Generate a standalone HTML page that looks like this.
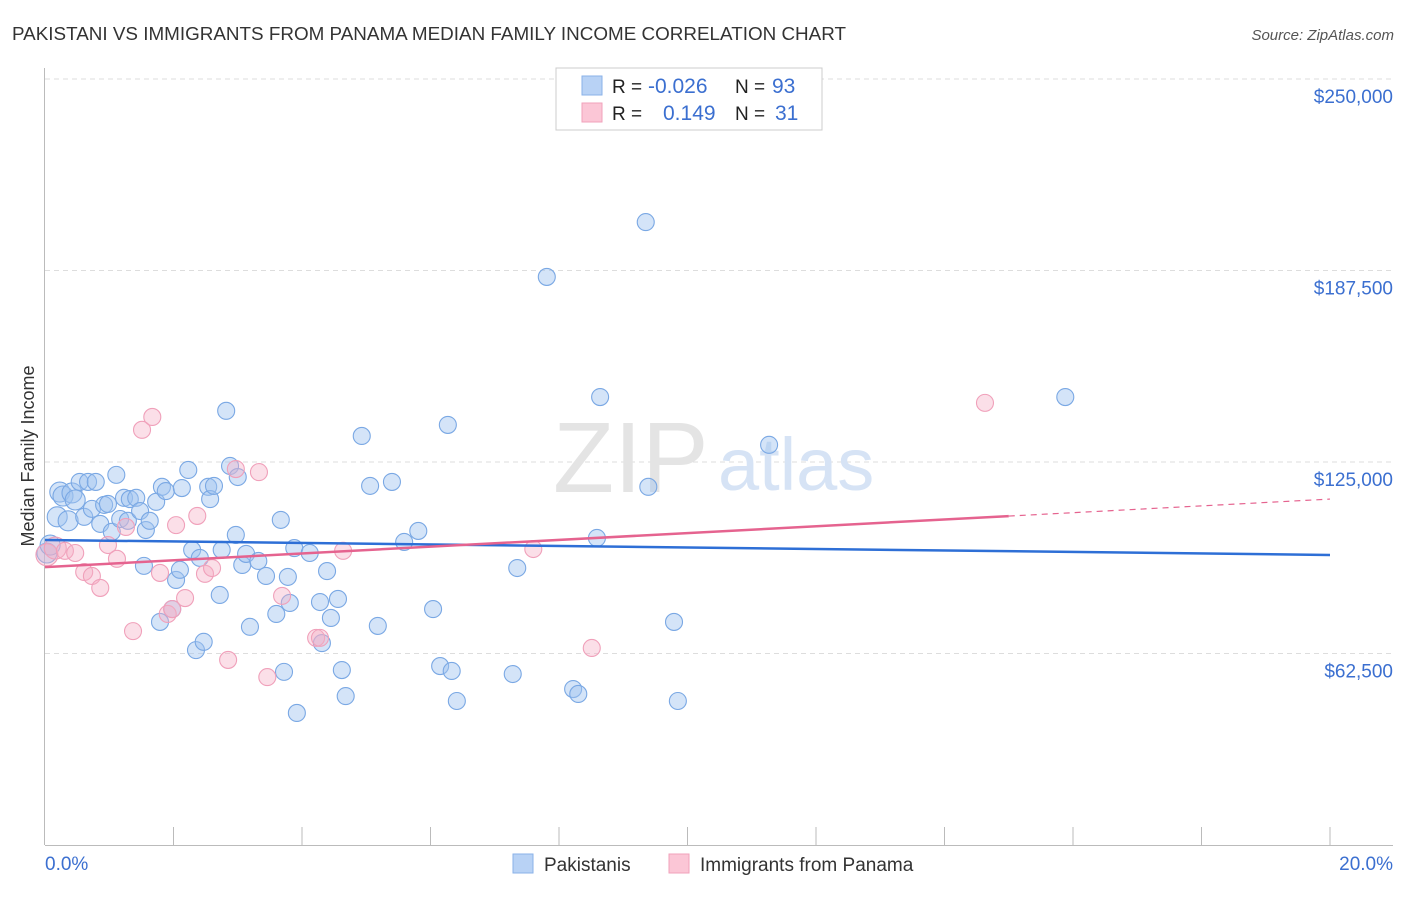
<!DOCTYPE html>
<html><head><meta charset="utf-8"><style>
body{margin:0;background:#fff;font-family:"Liberation Sans",sans-serif;}
svg text{font-family:"Liberation Sans",sans-serif;}
</style></head><body>
<svg id="chart" width="1406" height="892">
<text x="12" y="40" font-size="18" fill="#333" textLength="834" lengthAdjust="spacingAndGlyphs">PAKISTANI VS IMMIGRANTS FROM PANAMA MEDIAN FAMILY INCOME CORRELATION CHART</text>
<text x="1394" y="40" font-size="15" fill="#555" text-anchor="end" font-style="italic">Source: ZipAtlas.com</text>
<text x="34" y="456" font-size="18" fill="#333" text-anchor="middle" transform="rotate(-90 34 456)">Median Family Income</text>
<g id="grid"></g>
<text x="553" y="492" font-size="100" fill="#e4e4e4" font-family="Liberation Serif">ZIP</text>
<text x="718" y="490" font-size="74" fill="#d6e3f5">atlas</text>
<g id="pts"></g>
<g id="lines"></g>
<g>
<rect x="556" y="68" width="266" height="62" fill="#fff" stroke="#ccc"/>
<rect x="582" y="76" width="20" height="19" fill="#b8d2f5" stroke="#8ab2e8"/>
<rect x="582" y="103" width="20" height="19" fill="#fbc6d6" stroke="#f0a2bb"/>
<text x="612" y="93" font-size="19" fill="#222">R =</text>
<text x="648" y="93" font-size="21" fill="#3b6fd0">-0.026</text>
<text x="735" y="93" font-size="19" fill="#222">N =</text>
<text x="772" y="93" font-size="21" fill="#3b6fd0">93</text>
<text x="612" y="120" font-size="19" fill="#222">R =</text>
<text x="663" y="120" font-size="21" fill="#3b6fd0">0.149</text>
<text x="735" y="120" font-size="19" fill="#222">N =</text>
<text x="775" y="120" font-size="21" fill="#3b6fd0">31</text>
</g>
<g>
<rect x="513" y="854" width="20" height="19" fill="#b8d2f5" stroke="#8ab2e8"/>
<text x="544" y="871" font-size="19" fill="#333">Pakistanis</text>
<rect x="669" y="854" width="20" height="19" fill="#fbc6d6" stroke="#f0a2bb"/>
<text x="700" y="871" font-size="19" fill="#333">Immigrants from Panama</text>
</g>
</svg>
<script>
const yTicks=[62500,125000,187500,250000];
const yTickLabels=["$62,500","$125,000","$187,500","$250,000"];
const blueX=[0.03,0.08,0.19,0.23,0.28,0.36,0.42,0.47,0.54,0.61,0.67,0.73,0.79,0.86,0.92,0.98,1.04,1.11,1.17,1.23,1.29,1.32,1.42,1.48,1.57,1.63,1.54,1.73,1.82,1.88,1.79,1.98,2.04,2.10,2.13,2.23,2.29,2.35,2.41,2.47,2.54,2.57,2.63,2.72,2.75,2.82,2.88,2.97,3.00,3.07,3.13,3.19,3.32,3.44,3.60,3.67,3.72,3.78,3.81,3.88,3.92,4.12,4.28,4.31,4.39,4.45,4.56,4.62,4.68,4.93,5.06,5.18,5.40,5.59,5.81,6.04,6.15,6.27,6.33,6.41,7.28,7.35,7.81,8.22,8.30,8.59,8.64,9.35,9.39,9.79,9.85,11.27,15.88];
const blueY=[95300,97900,107100,115200,113900,105800,114900,112600,118500,107100,118500,109700,118500,104800,111000,111300,102200,120800,106400,113300,105800,112900,113300,109000,102800,105800,91100,112000,116900,115500,72800,77000,86500,89800,116500,122400,96300,63600,93700,66300,116900,112900,117200,81600,96300,141700,123700,101200,120100,91400,95000,71200,92700,87800,75400,106100,56500,87500,79000,96900,43100,95300,79300,65900,89400,74100,80300,57100,48600,133500,117200,71500,118500,98900,102500,77000,58400,137100,56800,47000,55800,90400,185400,50900,49300,100200,146200,203300,116900,72800,47000,130600,146200];
const pinkX=[0.03,0.16,0.31,0.47,0.61,0.73,0.86,0.98,1.12,1.26,1.37,1.51,1.67,1.79,1.91,1.98,2.04,2.18,2.37,2.49,2.60,2.85,2.97,3.33,3.46,3.69,4.22,4.28,4.64,7.60,8.51,14.63];
const pinkY=[94700,96900,96000,95300,89100,87800,83900,97900,93400,103800,69800,135500,139700,88800,75400,77000,104400,80600,107400,88500,90400,60400,122700,121700,54800,81300,67600,67600,96000,96600,64300,144300];
const blueTrend=[99550,94660];
const pinkTrend=[90700,112900];
const pinkSolidEnd=15.0;
const X=p=>45+p*64.25, Y=v=>845-v/62500*191.5;
const NS="http://www.w3.org/2000/svg";
function mk(t,a,parent){const e=document.createElementNS(NS,t);for(const k in a)e.setAttribute(k,a[k]);parent.appendChild(e);return e;}
const grid=document.getElementById('grid'),pts=document.getElementById('pts'),lines=document.getElementById('lines');
yTicks.forEach((v,i)=>{
  const l=mk('line',{x1:45,x2:1393,y1:Y(v),y2:Y(v),stroke:'#ddd','stroke-dasharray':'5,4'},grid);
  
  
  const t=mk('text',{x:1393,y:Y(v)+24,'font-size':19,fill:'#3b6fd0','text-anchor':'end'},grid);
  t.textContent=yTickLabels[i];
  
  
});
mk('line',{x1:44.5,x2:44.5,y1:68,y2:845,stroke:'#bbb'},grid);
mk('line',{x1:45,x2:1393,y1:845.5,y2:845.5,stroke:'#bbb'},grid);
for(let i=1;i<=10;i++){const tk=mk('line',{x1:X(i*2),x2:X(i*2),y1:827,y2:845,stroke:'#bbb'},grid);
  
  }
const xl=mk('text',{x:45,y:870,'font-size':19,fill:'#3b6fd0'},grid);xl.textContent='0.0%';


const xr=mk('text',{x:1393,y:870,'font-size':19,fill:'#3b6fd0','text-anchor':'end'},grid);xr.textContent='20.0%';


blueX.forEach((x,i)=>{const c=mk('circle',{cx:X(x),cy:Y(blueY[i]),r:x<0.5?10:8.5,fill:'rgba(160,195,240,0.45)',stroke:'#7aa8e4','stroke-width':1.1},pts);
  
  });
pinkX.forEach((x,i)=>{const c=mk('circle',{cx:X(x),cy:Y(pinkY[i]),r:x<0.2?11:8.5,fill:'rgba(245,175,198,0.4)',stroke:'#f0a0ba','stroke-width':1.1},pts);
  
  });
const bl=mk('line',{x1:X(0),x2:X(20),y1:Y(blueTrend[0]),y2:Y(blueTrend[1]),stroke:'#2e6fd6','stroke-width':2.5},lines);


const pv=x=>pinkTrend[0]+(pinkTrend[1]-pinkTrend[0])*x/20;
const pl=mk('line',{x1:X(0),x2:X(pinkSolidEnd),y1:Y(pv(0)),y2:Y(pv(pinkSolidEnd)),stroke:'#e5638f','stroke-width':2.5},lines);


const pd=mk('line',{x1:X(pinkSolidEnd),x2:X(20),y1:Y(pv(pinkSolidEnd)),y2:Y(pv(20)),stroke:'#e5638f','stroke-width':1.2,'stroke-dasharray':'6,5'},lines);


</script>
</body></html>
